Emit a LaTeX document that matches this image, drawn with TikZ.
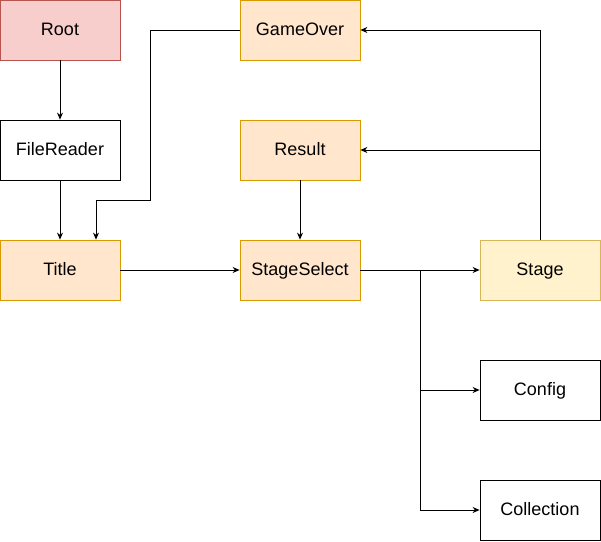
\documentclass[tikz,border=0pt]{standalone}
\usepackage{fontspec}
\setmainfont{Liberation Sans}
\usetikzlibrary{arrows.meta,positioning,calc}
\definecolor{redF}{HTML}{F8CECC}
\definecolor{redD}{HTML}{B85450}
\definecolor{orgF}{HTML}{FFE6CC}
\definecolor{orgD}{HTML}{D79B00}
\definecolor{ylwF}{HTML}{FFF2CC}
\definecolor{ylwD}{HTML}{D6B656}

\begin{document}
\begin{tikzpicture}[x=1pt,y=-1pt,line width=0.8pt,
  every node/.style={font=\fontsize{18pt}{21pt}\selectfont},
  >={Stealth[length=7pt,width=6pt]},
  scene/.style={draw,minimum width=120pt,minimum height=60pt,inner sep=0pt,
    text height=1em,text depth=0pt},
  plain/.style={scene,fill=white,draw=black},
  rootbox/.style={scene,fill=redF,draw=redD},
  menu/.style={scene,fill=orgF,draw=orgD},
  play/.style={scene,fill=ylwF,draw=ylwD}]
  \useasboundingbox (0,0) rectangle (601,541);
  % scenes
  \node[rootbox] (Root) at (60,30) {Root};
  \node[plain] (FileReader) at (60,150) {FileReader};
  \node[menu] (Title) at (60,270) {Title};
  \node[menu] (GameOver) at (300,30) {GameOver};
  \node[menu] (Result) at (300,150) {Result};
  \node[menu] (StageSelect) at (300,270) {StageSelect};
  \node[play] (Stage) at (540,270) {Stage};
  \node[plain] (Config) at (540,390) {Config};
  \node[plain] (Collection) at (540,510) {Collection};
  \coordinate (back) at (150,200);
  \coordinate (split) at (420,270);
  % transitions
  \draw[->] (Root) -- (FileReader);
  \draw[->] (FileReader) -- (Title);
  \draw[->] (Title) -- (StageSelect);
  \draw[->] (Result) -- (StageSelect);
  \draw[->] (StageSelect) -- (Stage);
  \draw[->] (split) |- (Config.west);
  \draw[->] (split) |- (Collection.west);
  \draw[->] (Stage.north) |- (Result.east);
  \draw[->] (Stage.north) |- (GameOver.east);
  \draw[->] (GameOver.west) -| (back) -| ([xshift=36pt]Title.north);
\end{tikzpicture}
\end{document}
